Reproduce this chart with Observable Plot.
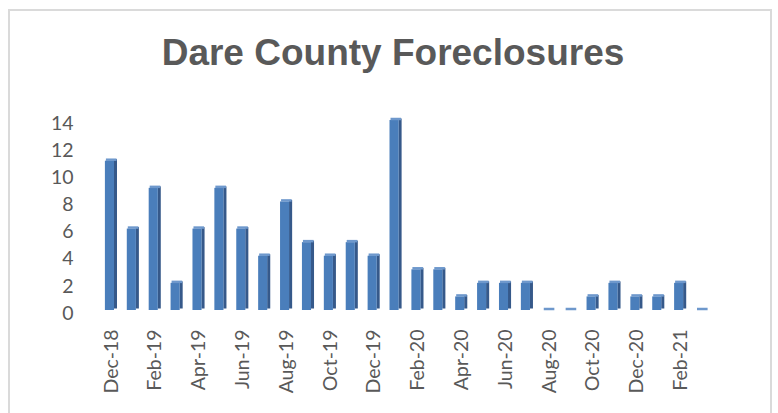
<!DOCTYPE html>
<html><head><meta charset="utf-8">
<script src="https://cdn.jsdelivr.net/npm/d3@7"></script>
<script src="https://cdn.jsdelivr.net/npm/@observablehq/plot@0.6"></script>
<style>
body{margin:0;background:#fff;}
#wrap{position:relative;width:778px;height:413px;overflow:hidden;background:#fff;}
#frame{position:absolute;left:8px;top:9px;width:764px;height:420px;border:2px solid #dadada;box-sizing:border-box;}
#title{position:absolute;left:4px;width:778px;top:34px;line-height:1;text-align:center;font-family:"Liberation Sans",Arial,sans-serif;font-weight:bold;font-size:37px;color:#595959;white-space:nowrap;}
#chart{position:absolute;left:0;top:0;}
</style></head><body>
<div id="wrap"><div id="frame"></div><div id="title">Dare County Foreclosures</div><div id="chart"></div></div>
<script>
const months = ["Dec-18","Jan-19","Feb-19","Mar-19","Apr-19","May-19","Jun-19","Jul-19","Aug-19","Sep-19","Oct-19","Nov-19",
  "Dec-19","Jan-20","Feb-20","Mar-20","Apr-20","May-20","Jun-20","Jul-20","Aug-20","Sep-20","Oct-20","Nov-20",
  "Dec-20","Jan-21","Feb-21","Mar-21"];
const counts = [11,6,9,2,6,9,6,4,8,5,4,5,4,14,3,3,1,2,2,2,0,0,1,2,1,1,2,0];
const xTickLabels = ["Dec-18","Feb-19","Apr-19","Jun-19","Aug-19","Oct-19","Dec-19","Feb-20","Apr-20","Jun-20","Aug-20","Oct-20","Dec-20","Feb-21"];
const yTicks = [0,2,4,6,8,10,12,14];

const data = months.map((m, i) => ({month: m, count: counts[i]}));

const chart = Plot.plot({
  width: 778,
  height: 413,
  marginLeft: 100,
  marginRight: 65,
  marginTop: 123,
  marginBottom: 100,
  style: {background: "transparent", fontFamily: "Lato, sans-serif", color: "#595959", overflow: "visible"},
  x: {domain: months, padding: 0, round: false, axis: null},
  y: {domain: [0, 14], axis: null},
  marks: [
    Plot.axisY({ticks: yTicks, tickSize: 0, tickPadding: 27, fontSize: 19.5, fill: "#595959", label: null}),
    Plot.axisX({ticks: xTickLabels, tickSize: 0, tickPadding: 16, tickRotate: -90, fontSize: 19.5, fill: "#595959", label: null}),
    // side face (darker)
    Plot.barY(data, {x: "month", y: "count", fill: "#36598a", insetLeft: 13.9, insetRight: 4.9, dy: -4.5}),
    // front face
    Plot.barY(data, {x: "month", y: "count", fill: "#4a7ebb", insetLeft: 4.9, insetRight: 7.9, dy: -3}),
    // top cap
    Plot.tickY(data, {x: "month", y: "count", stroke: "#6e98cc", strokeWidth: 2.5, insetLeft: 5.9, insetRight: 5.4, dy: -4.5})
  ]
});
document.getElementById("chart").appendChild(chart);
</script>
</body></html>
